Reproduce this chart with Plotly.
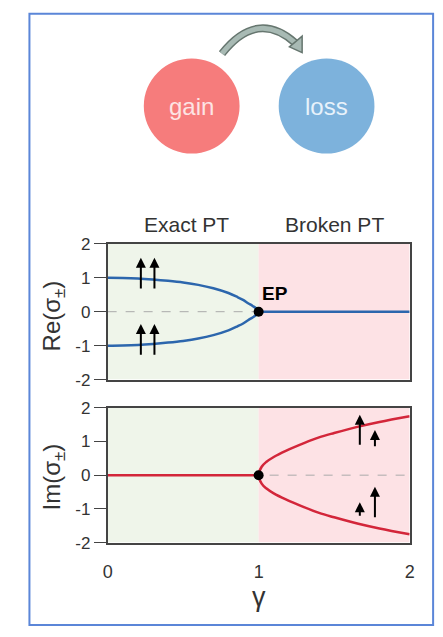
import plotly.graph_objects as go

W, H = 443, 637

# ---- data -------------------------------------------------------------
# Real part of the eigenvalues (exact PT phase, gamma < 1)
gamma_exact = [0.0, 0.1, 0.2, 0.3, 0.4, 0.5, 0.6, 0.7, 0.8, 0.86, 0.9, 0.93, 0.96, 0.985, 1.0]
re_upper = [1.0, 0.995, 0.98, 0.95, 0.91, 0.86, 0.79, 0.69, 0.55, 0.43, 0.34, 0.25, 0.17, 0.09, 0.0]
re_lower = [-v for v in re_upper]
# Real part after the exceptional point
gamma_broken_flat = [1.0, 2.0]
re_flat = [0.0, 0.0]

# Imaginary part: zero before EP, splitting afterwards
gamma_exact_flat = [0.0, 1.0]
im_flat = [0.0, 0.0]
gamma_broken = [1.0, 1.02, 1.05, 1.1, 1.18, 1.3, 1.4, 1.5, 1.66, 1.8, 2.0]
im_upper = [0.0, 0.25, 0.39, 0.54, 0.72, 0.95, 1.12, 1.25, 1.44, 1.58, 1.75]
im_lower = [-v for v in im_upper]

# Exceptional point
ep_gamma, ep_value = 1.0, 0.0

# Amplitude arrows (gamma, tail, tip)
re_arrows = [(0.22, 0.64, 1.59), (0.31, 0.64, 1.59),
             (0.22, -1.31, -0.36), (0.31, -1.31, -0.36)]
im_arrows = [(1.67, 0.86, 1.79), (1.77, 0.81, 1.34),
             (1.67, -1.25, -0.80), (1.77, -1.29, -0.34)]

y_ticks = [-2, -1, 0, 1, 2]
y_ticktext = ["-2", "-1", "0", "1", "2"]
x_ticks = [0, 1, 2]
x_ticktext = ["0", "1", "2"]

# ---- styling ----------------------------------------------------------
FONT = "Liberation Sans, Arial, sans-serif"
TXT = "#333333"
BLUE = "#2c66ad"
RED = "#d3263a"
GREEN_BG = "#eff5ea"
PINK_BG = "#fde2e5"
FRAME = "#444444"


def px(x, y):
    """pixel position -> paper coordinates"""
    return x / W, 1 - y / H


fig = go.Figure()

# Re panel: both branches joined through the EP so the spline closes smoothly
re_loop_x = gamma_exact + gamma_exact[::-1][1:]
re_loop_y = re_upper + re_lower[::-1][1:]
fig.add_trace(go.Scatter(x=re_loop_x, y=re_loop_y, mode="lines",
                         line=dict(color=BLUE, width=2.5, shape="spline", smoothing=1),
                         xaxis="x", yaxis="y"))
fig.add_trace(go.Scatter(x=gamma_broken_flat, y=re_flat, mode="lines",
                         line=dict(color=BLUE, width=2.5),
                         xaxis="x", yaxis="y"))
fig.add_trace(go.Scatter(x=[ep_gamma], y=[ep_value], mode="markers",
                         marker=dict(color="black", size=10),
                         xaxis="x", yaxis="y"))

# Im panel
im_loop_x = gamma_broken[::-1] + gamma_broken[1:]
im_loop_y = im_upper[::-1] + im_lower[1:]
fig.add_trace(go.Scatter(x=gamma_exact_flat, y=im_flat, mode="lines",
                         line=dict(color=RED, width=2.5),
                         xaxis="x2", yaxis="y2"))
fig.add_trace(go.Scatter(x=im_loop_x, y=im_loop_y, mode="lines",
                         line=dict(color=RED, width=2.5, shape="spline", smoothing=1),
                         xaxis="x2", yaxis="y2"))
fig.add_trace(go.Scatter(x=[ep_gamma], y=[ep_value], mode="markers",
                         marker=dict(color="black", size=10),
                         xaxis="x2", yaxis="y2"))

shapes = []
# phase shading and zero reference lines
for xr, yr in (("x", "y"), ("x2", "y2")):
    shapes.append(dict(type="rect", xref=xr, yref=yr, x0=0, x1=1, y0=-2, y1=2,
                       fillcolor=GREEN_BG, line=dict(width=0), layer="below"))
    shapes.append(dict(type="rect", xref=xr, yref=yr, x0=1, x1=2, y0=-2, y1=2,
                       fillcolor=PINK_BG, line=dict(width=0), layer="below"))
    shapes.append(dict(type="line", xref=xr, yref=yr, x0=0, x1=2, y0=0, y1=0,
                       line=dict(color="#aaaaaa", width=1, dash="dash"), layer="below"))

# gain / loss circles
gx0, gy0 = px(142, 51)
gx1, gy1 = px(240, 149)
shapes.append(dict(type="circle", xref="paper", yref="paper",
                   x0=gx0, x1=gx1, y0=gy1, y1=gy0,
                   fillcolor="#f67c7c", line=dict(width=0)))
lx0, ly0 = px(280, 51)
lx1, ly1 = px(378, 149)
shapes.append(dict(type="circle", xref="paper", yref="paper",
                   x0=lx0, x1=lx1, y0=ly1, y1=ly0,
                   fillcolor="#7db2dc", line=dict(width=0)))

# curved transfer arrow between the circles
a0 = px(222, 46)
ac = px(258, 0)
a1 = px(297, 35)
arc = f"M {a0[0]} {a0[1]} Q {ac[0]} {ac[1]} {a1[0]} {a1[1]}"
shapes.append(dict(type="path", xref="paper", yref="paper", path=arc,
                   line=dict(color="#66766f", width=8)))
shapes.append(dict(type="path", xref="paper", yref="paper", path=arc,
                   line=dict(color="#a8bab4", width=5)))
t_tip = px(304, 45)
t_b1 = px(291, 39)
t_b2 = px(304, 28)
head = (f"M {t_tip[0]} {t_tip[1]} L {t_b1[0]} {t_b1[1]} "
        f"L {t_b2[0]} {t_b2[1]} Z")
shapes.append(dict(type="path", xref="paper", yref="paper", path=head,
                   fillcolor="#a8bab4", line=dict(color="#66766f", width=1.5)))

# outer frame
f0 = px(25, 5)
f1 = px(438, 635)
shapes.append(dict(type="rect", xref="paper", yref="paper",
                   x0=f0[0], x1=f1[0], y0=f1[1], y1=f0[1],
                   line=dict(color="#5b86d8", width=2)))

annotations = []
for g, tail, tip in re_arrows:
    annotations.append(dict(x=g, y=tip, ax=g, ay=tail, xref="x", yref="y",
                            axref="x", ayref="y", text="", showarrow=True,
                            arrowhead=2, arrowsize=1.0, arrowwidth=2,
                            arrowcolor="black"))
for g, tail, tip in im_arrows:
    annotations.append(dict(x=g, y=tip, ax=g, ay=tail, xref="x2", yref="y2",
                            axref="x2", ayref="y2", text="", showarrow=True,
                            arrowhead=2, arrowsize=1.0, arrowwidth=2,
                            arrowcolor="black"))

annotations.append(dict(x=1.11, y=0.53, xref="x", yref="y", text="<b>EP</b>",
                        showarrow=False, font=dict(family=FONT, size=19, color="black")))


def label(x, y, text, size, color=TXT, angle=0):
    xp, yp = px(x, y)
    annotations.append(dict(x=xp, y=yp, xref="paper", yref="paper", text=text,
                            showarrow=False, textangle=angle,
                            xanchor="center", yanchor="middle",
                            font=dict(family=FONT, size=size, color=color)))


label(191, 100, "gain", 24, "#fde4e4")
label(329, 100, "loss", 24, "#e8f2fb")
label(186, 222, "Exact PT", 21)
label(337, 222, "Broken PT", 21)
label(50, 316, "Re(σ<sub>±</sub>)", 24, angle=-90)
label(50, 482, "Im(σ<sub>±</sub>)", 24, angle=-90)
label(260, 606, "γ", 27)

xdom = [105 / W, 414 / W]
top_dom = [1 - 382 / H, 1 - 242 / H]
bot_dom = [1 - 550 / H, 1 - 411 / H]

yaxis_common = dict(range=[-2, 2], tickvals=y_ticks, ticktext=y_ticktext,
                    ticks="outside", ticklen=12, tickcolor=FRAME, tickwidth=1.2,
                    showline=True, linecolor=FRAME, linewidth=1.5, mirror=True,
                    showgrid=False, zeroline=False,
                    tickfont=dict(family=FONT, size=17, color=TXT))
xaxis_common = dict(range=[0, 2], showline=True, linecolor=FRAME, linewidth=1.5,
                    mirror=True, showgrid=False, zeroline=False, domain=xdom)

fig.update_layout(
    width=W, height=H,
    margin=dict(l=0, r=0, t=0, b=0),
    paper_bgcolor="white", plot_bgcolor="white",
    showlegend=False,
    xaxis=dict(**xaxis_common, anchor="y", showticklabels=False, ticks=""),
    yaxis=dict(**yaxis_common, domain=top_dom, anchor="x"),
    xaxis2=dict(**xaxis_common, anchor="y2", tickvals=x_ticks, ticktext=x_ticktext,
                ticks="", ticklabelstandoff=12,
                tickfont=dict(family=FONT, size=18, color=TXT)),
    yaxis2=dict(**yaxis_common, domain=bot_dom, anchor="x2"),
    shapes=shapes,
    annotations=annotations,
)

fig.write_html("out.html")
